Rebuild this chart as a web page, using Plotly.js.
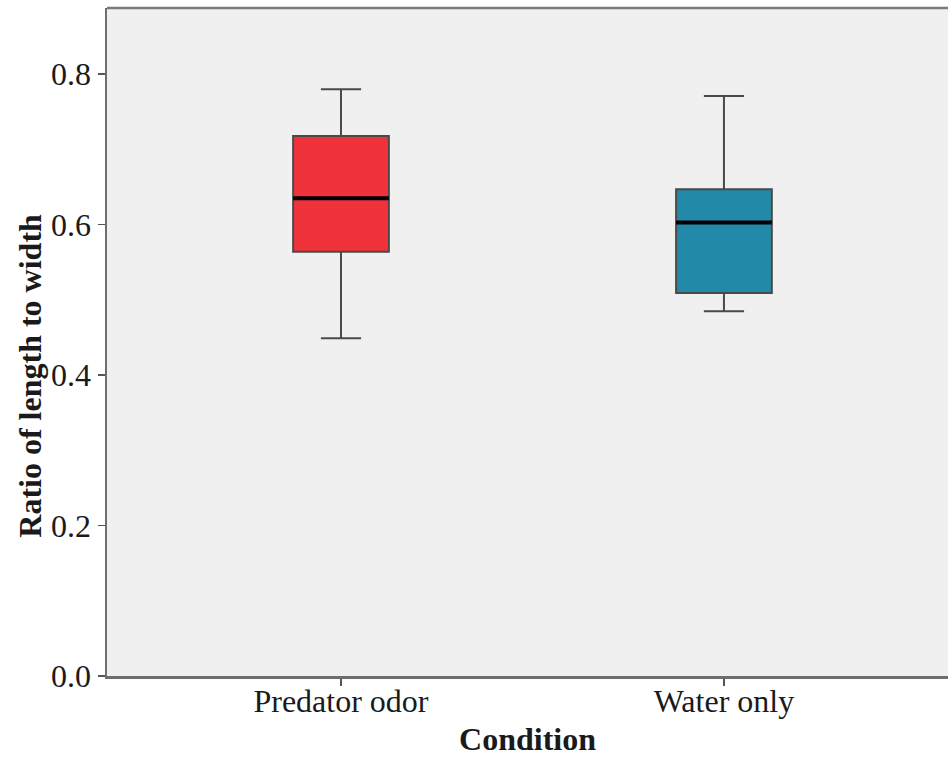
<!DOCTYPE html>
<html>
<head>
<meta charset="utf-8">
<script src="https://cdn.plot.ly/plotly-3.0.1.min.js"></script>
<style>html,body{margin:0;padding:0;background:#fff;}#chart{width:948px;height:761px;}</style>
</head>
<body>
<div id="chart"></div>
<script>
const categories = ["Predator odor", "Water only"];
const lowerWhisker = [0.449, 0.485];
const q1Values = [0.564, 0.509];
const medianValues = [0.635, 0.603];
const q3Values = [0.718, 0.647];
const upperWhisker = [0.780, 0.771];
const boxColors = ["#F0323A", "#2389A8"];
const yTickVals = [0, 0.2, 0.4, 0.6, 0.8];

const boxWidth = 0.25;
const positions = categories.map((c, i) => i);

const traces = categories.map((c, i) => ({
  type: "box",
  name: c,
  x: [positions[i]],
  q1: [q1Values[i]],
  median: [medianValues[i]],
  q3: [q3Values[i]],
  lowerfence: [lowerWhisker[i]],
  upperfence: [upperWhisker[i]],
  width: boxWidth,
  whiskerwidth: 0.42,
  fillcolor: boxColors[i],
  line: {color: "#4a4a4a", width: 2},
  hoverinfo: "skip",
  showlegend: false
}));

const medX = [], medY = [];
categories.forEach((c, i) => {
  medX.push(positions[i] - boxWidth / 2, positions[i] + boxWidth / 2, null);
  medY.push(medianValues[i], medianValues[i], null);
});
traces.push({
  type: "scatter", mode: "lines", x: medX, y: medY,
  line: {color: "#000", width: 4}, hoverinfo: "skip", showlegend: false
});

const font = "Liberation Serif, Times New Roman, serif";
const fs = 32;
const layout = {
  width: 948, height: 761,
  margin: {l: 107, r: 0, t: 8, b: 85},
  paper_bgcolor: "#ffffff",
  plot_bgcolor: "#F0F0F0",
  font: {family: font, color: "#1a1a1a", size: fs},
  xaxis: {
    range: [-0.611, 1.585],
    tickvals: positions, ticktext: categories,
    showgrid: false, zeroline: false,
    showline: true, linecolor: "#6e6e6e", linewidth: 2.5,
    ticks: "outside", ticklen: 7, tickwidth: 1.5, tickcolor: "#555",
    ticklabelstandoff: -12,
    tickfont: {family: font, size: fs, color: "#1a1a1a"},
    title: {text: "<b>Condition</b>", font: {family: font, size: fs, color: "#1a1a1a"}, standoff: 10}
  },
  yaxis: {
    range: [0, 0.888],
    tickvals: yTickVals, tickformat: ".1f",
    showgrid: false, zeroline: false,
    showline: true, linecolor: "#6e6e6e", linewidth: 2.5,
    ticks: "outside", ticklen: 7, tickwidth: 1.5, tickcolor: "#555",
    tickfont: {family: font, size: fs, color: "#1a1a1a"}
  },
  annotations: [{
    text: "<b>Ratio of length to width</b>",
    xref: "paper", yref: "paper", x: -0.092, y: 0.449,
    xanchor: "center", yanchor: "middle", textangle: -90, showarrow: false,
    font: {family: font, size: fs, color: "#1a1a1a"}
  }],
  shapes: [{
    type: "line", xref: "paper", yref: "paper", x0: 0, x1: 1, y0: 1, y1: 1,
    line: {color: "#7a7a7a", width: 2.5}
  }]
};

Plotly.newPlot("chart", traces, layout, {displayModeBar: false, staticPlot: true});
</script>
</body>
</html>
